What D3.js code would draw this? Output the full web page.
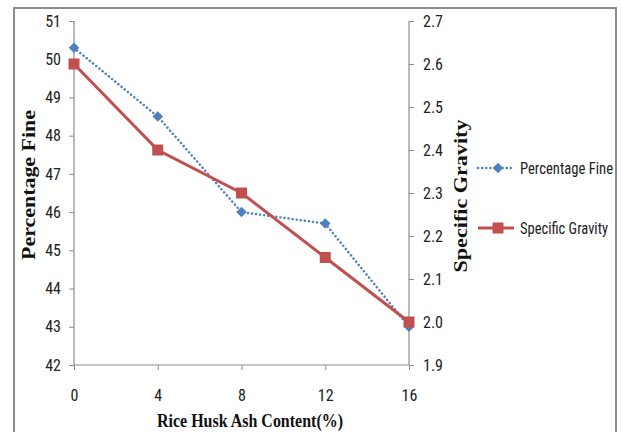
<!DOCTYPE html>
<html>
<head>
<meta charset="utf-8">
<script src="https://cdn.jsdelivr.net/npm/d3@7"></script>
<style>
  body { margin: 0; background: #fff; }
  .tick text { font-family: "Liberation Sans Narrow", "Roboto Condensed", "Liberation Sans", sans-serif; font-size: 16px; fill: #222; }
  .title { font-family: "Liberation Serif", "DejaVu Serif", serif; font-weight: bold; font-size: 18px; fill: #111; }
  .legend text { font-family: "Liberation Sans Narrow", "Roboto Condensed", "Liberation Sans", sans-serif; font-size: 16px; fill: #222; }
</style>
</head>
<body>
<div id="chart"></div>
<script>
const ashContent = [0, 4, 8, 12, 16];
const percentageFine = [50.3, 48.5, 46.0, 45.7, 43.0];
const specificGravity = [2.6, 2.4, 2.3, 2.15, 2.0];
const leftTicks = [42, 43, 44, 45, 46, 47, 48, 49, 50, 51];
const rightTicks = [1.9, 2.0, 2.1, 2.2, 2.3, 2.4, 2.5, 2.6, 2.7];

const width = 622, height = 432;
const plot = { left: 74, right: 409, top: 21, bottom: 365 };

const svg = d3.select('#chart').append('svg')
    .attr('width', width)
    .attr('height', height);

// outer frame
svg.append('rect')
    .attr('x', 14).attr('y', 8)
    .attr('width', 602).attr('height', 440)
    .attr('fill', 'none')
    .attr('stroke', '#8c8c8c')
    .attr('stroke-width', 2);

const x = d3.scaleLinear().domain([0, 16]).range([plot.left, plot.right]);
const yLeft = d3.scaleLinear().domain([42, 51]).range([plot.bottom, plot.top]);
const yRight = d3.scaleLinear().domain([1.9, 2.7]).range([plot.bottom, plot.top]);

const axisColor = '#8c8c8c';

const gx = svg.append('g')
    .attr('transform', `translate(0,${plot.bottom})`)
    .call(d3.axisBottom(x).tickValues(ashContent).tickSize(5).tickPadding(20));

const gl = svg.append('g')
    .attr('transform', `translate(${plot.left},0)`)
    .call(d3.axisLeft(yLeft).tickValues(leftTicks).tickSize(5).tickPadding(8));

const gr = svg.append('g')
    .attr('transform', `translate(${plot.right},0)`)
    .call(d3.axisRight(yRight).tickValues(rightTicks).tickFormat(d3.format('.1f')).tickSize(5).tickPadding(9));

[gx, gl, gr].forEach(g => {
    g.select('.domain').attr('stroke', axisColor).attr('stroke-width', 1.2);
    g.selectAll('.tick line').attr('stroke', axisColor);
});
gx.select('.domain').attr('d', `M${plot.left},0H${plot.right}`);
gl.select('.domain').attr('d', `M0,${plot.bottom}V${plot.top}`);
gr.select('.domain').attr('d', `M0,${plot.bottom}V${plot.top}`);

// axis titles
svg.append('text').attr('class', 'title')
    .attr('transform', `translate(35,185) rotate(-90)`)
    .attr('text-anchor', 'middle')
    .attr('textLength', 150).attr('lengthAdjust', 'spacingAndGlyphs')
    .text('Percentage Fine');

svg.append('text').attr('class', 'title')
    .attr('transform', `translate(467,196) rotate(-90)`)
    .attr('text-anchor', 'middle')
    .attr('textLength', 153).attr('lengthAdjust', 'spacingAndGlyphs')
    .text('Specific Gravity');

svg.append('text').attr('class', 'title')
    .attr('x', 250).attr('y', 427)
    .attr('text-anchor', 'middle')
    .attr('textLength', 186).attr('lengthAdjust', 'spacingAndGlyphs')
    .text('Rice Husk Ash Content(%)');

const blue = '#4f81bd', red = '#c0504d';

const fineData = ashContent.map((d, i) => ({ x: d, y: percentageFine[i] }));
const sgData = ashContent.map((d, i) => ({ x: d, y: specificGravity[i] }));

svg.append('path')
    .datum(fineData)
    .attr('fill', 'none')
    .attr('stroke', blue)
    .attr('stroke-width', 2.5)
    .attr('stroke-dasharray', '0.1,4')
    .attr('stroke-linecap', 'round')
    .attr('d', d3.line().x(d => x(d.x)).y(d => yLeft(d.y)));

svg.append('path')
    .datum(sgData)
    .attr('fill', 'none')
    .attr('stroke', red)
    .attr('stroke-width', 3)
    .attr('d', d3.line().x(d => x(d.x)).y(d => yRight(d.y)));

const diamond = d3.symbol().type(d3.symbolDiamond2).size(70);

svg.selectAll('.fine-pt')
    .data(fineData)
    .enter().append('path')
    .attr('class', 'fine-pt')
    .attr('transform', d => `translate(${x(d.x)},${yLeft(d.y)})`)
    .attr('d', diamond)
    .attr('fill', blue);

svg.selectAll('.sg-pt')
    .data(sgData)
    .enter().append('rect')
    .attr('class', 'sg-pt')
    .attr('x', d => x(d.x) - 5.5)
    .attr('y', d => yRight(d.y) - 5.5)
    .attr('width', 11).attr('height', 11)
    .attr('fill', red);

// legend
const legend = svg.append('g').attr('class', 'legend');
const l1 = legend.append('g').attr('transform', 'translate(478,168)');
l1.append('line').attr('x1', 0).attr('x2', 36)
    .attr('stroke', blue).attr('stroke-width', 2.5)
    .attr('stroke-dasharray', '0.1,4').attr('stroke-linecap', 'round');
l1.append('path').attr('transform', 'translate(20,0)').attr('d', diamond).attr('fill', blue);
l1.append('text').attr('x', 42).attr('y', 6)
    .attr('textLength', 93).attr('lengthAdjust', 'spacingAndGlyphs')
    .text('Percentage Fine');

const l2 = legend.append('g').attr('transform', 'translate(478,228)');
l2.append('line').attr('x1', 0).attr('x2', 36)
    .attr('stroke', red).attr('stroke-width', 3);
l2.append('rect').attr('x', 14.5).attr('y', -5.5).attr('width', 11).attr('height', 11).attr('fill', red);
l2.append('text').attr('x', 42).attr('y', 6)
    .attr('textLength', 88).attr('lengthAdjust', 'spacingAndGlyphs')
    .text('Specific Gravity');
</script>
</body>
</html>
